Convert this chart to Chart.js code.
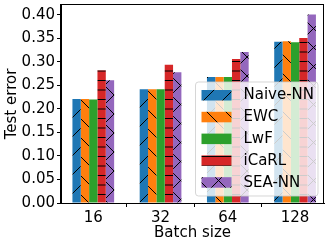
<!DOCTYPE html>
<html>
<head>
<meta charset="utf-8">
<script src="https://cdn.jsdelivr.net/npm/chart.js@4/dist/chart.umd.min.js"></script>
<style>
	html, body { margin: 0; padding: 0; background: #fff; }
	#wrap { width: 333px; height: 246px; }
</style>
</head>
<body>
<div id="wrap"><canvas id="myChart" width="333" height="246"></canvas></div>
<script>
// data
var batchSizes = ['16', '32', '64', '128'];
var naiveNN = [0.221, 0.242, 0.268, 0.343];
var ewc = [0.221, 0.242, 0.268, 0.344];
var lwf = [0.220, 0.242, 0.268, 0.342];
var icarl = [0.282, 0.294, 0.306, 0.351];
var seaNN = [0.261, 0.278, 0.321, 0.401];
var seriesNames = ['Naive-NN', 'EWC', 'LwF', 'iCaRL', 'SEA-NN'];
var yTicks = [0, 0.05, 0.10, 0.15, 0.20, 0.25, 0.30, 0.35, 0.40];

var FONT = 'DejaVu Sans';

// hatch patterns like matplotlib ('/', '\\', none, '-', 'x')
function hatch(color, kind) {
	var s = 19;
	var c = document.createElement('canvas');
	c.width = s; c.height = s;
	var g = c.getContext('2d');
	g.fillStyle = color;
	g.fillRect(0, 0, s, s);
	g.strokeStyle = '#000';
	g.lineWidth = 1;
	g.beginPath();
	var o;
	if (kind === '/' || kind === 'x') {
		for (o = -s; o <= s; o += s) { g.moveTo(o, s); g.lineTo(o + s, 0); }
	}
	if (kind === '\\' || kind === 'x') {
		for (o = -s; o <= s; o += s) { g.moveTo(o, 0); g.lineTo(o + s, s); }
	}
	if (kind === '-') {
		g.moveTo(0, 4.5); g.lineTo(s, 4.5);
		g.moveTo(0, 14); g.lineTo(s, 14);
	}
	g.stroke();
	return g.createPattern(c, 'repeat');
}

var colors = ['#1f77b4', '#ff7f0e', '#2ca02c', '#d62728', '#9467bd'];
var hatches = ['/', '\\', '', '-', 'x'];
var series = [naiveNN, ewc, lwf, icarl, seaNN];

var ctx = document.getElementById('myChart');
var patterns = colors.map(function(c, i) { return hatch(c, hatches[i]); });

var datasets = series.map(function(vals, k) {
	return {
		label: seriesNames[k],
		data: vals.map(function(v, i) { return { x: i, y: v }; }),
		backgroundColor: patterns[k],
		borderWidth: 0
	};
});

// box around the axes (top and right spines)
var framePlugin = {
	id: 'frame',
	afterDatasetsDraw: function(chart) {
		var a = chart.chartArea, c = chart.ctx;
		c.save();
		c.strokeStyle = '#000';
		c.lineWidth = 1;
		c.strokeRect(Math.round(a.left) - 0.5, Math.round(a.top) - 0.5, Math.round(a.right - a.left), Math.round(a.bottom - a.top) + 1);
		c.restore();
	}
};

// matplotlib-like legend at lower right, drawn over the bars
var legendPlugin = {
	id: 'mplLegend',
	afterDraw: function(chart) {
		var c = chart.ctx, a = chart.chartArea;
		var w = 122.5, h = 114;
		var x0 = a.right - 6 - w, y0 = a.bottom - 7 - h;
		var r = 3;
		c.save();
		c.beginPath();
		c.moveTo(x0 + r, y0);
		c.arcTo(x0 + w, y0, x0 + w, y0 + h, r);
		c.arcTo(x0 + w, y0 + h, x0, y0 + h, r);
		c.arcTo(x0, y0 + h, x0, y0, r);
		c.arcTo(x0, y0, x0 + w, y0, r);
		c.closePath();
		c.fillStyle = 'rgba(255,255,255,0.8)';
		c.fill();
		c.strokeStyle = 'rgba(204,204,204,0.8)';
		c.lineWidth = 1;
		c.stroke();
		c.font = '15px "' + FONT + '"';
		c.textBaseline = 'middle';
		c.fillStyle = '#000';
		for (var k = 0; k < seriesNames.length; k++) {
			var cy = y0 + 13 + k * 21.8;
			c.fillStyle = patterns[k];
			c.fillRect(x0 + 6, cy - 5, 30, 10.5);
			c.fillStyle = '#000';
			c.fillText(seriesNames[k], x0 + 48, cy + 0.5);
		}
		c.restore();
	}
};

function noPad(s) {
	s.paddingTop = 0; s.paddingBottom = 0;
	s.paddingLeft = 0; s.paddingRight = 0;
}

var myChart = new Chart(ctx, {
	type: 'bar',
	data: { datasets: datasets },
	plugins: [framePlugin, legendPlugin],
	options: {
		responsive: false,
		animation: false,
		events: [],
		layout: { padding: { top: 5, right: 9, left: 0, bottom: 0 } },
		datasets: { bar: { categoryPercentage: 0.62, barPercentage: 1 } },
		plugins: {
			legend: { display: false },
			tooltip: { enabled: false }
		},
		scales: {
			x: {
				type: 'linear',
				min: -0.48,
				max: 3.43,
				offset: false,
				afterFit: function(s) { s.height = 43; noPad(s); },
				afterBuildTicks: function(s) {
					s.ticks = batchSizes.map(function(b, i) { return { value: i }; });
				},
				ticks: {
					autoSkip: false,
					maxRotation: 0,
					padding: 2,
					color: '#000',
					font: { family: FONT, size: 15 },
					callback: function(v) { return batchSizes[v]; }
				},
				grid: { drawOnChartArea: false, drawTicks: true, tickLength: 4, color: '#000', lineWidth: 1 },
				border: { display: true, color: '#000', width: 1 },
				title: {
					display: true,
					text: 'Batch size',
					color: '#000',
					font: { family: FONT, size: 15 },
					padding: { top: 0, bottom: 4 }
				}
			},
			y: {
				min: 0,
				max: 0.421,
				afterFit: function(s) { s.width = 61; noPad(s); },
				afterBuildTicks: function(s) {
					s.ticks = yTicks.map(function(v) { return { value: v }; });
				},
				ticks: {
					padding: 2,
					color: '#000',
					font: { family: FONT, size: 15 },
					callback: function(v) { return v.toFixed(2); }
				},
				grid: { drawOnChartArea: false, drawTicks: true, tickLength: 4, color: '#000', lineWidth: 1 },
				border: { display: true, color: '#000', width: 1 },
				title: {
					display: true,
					text: 'Test error',
					color: '#000',
					font: { family: FONT, size: 15 },
					padding: { top: 3, bottom: 0 }
				}
			}
		}
	}
});
</script>
</body>
</html>
